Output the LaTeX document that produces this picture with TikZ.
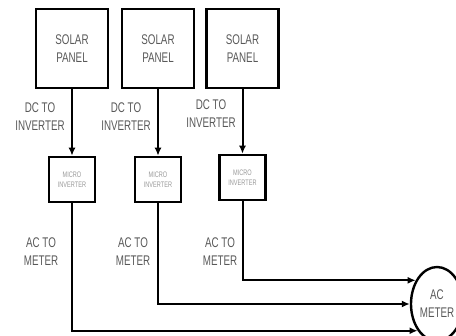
\documentclass[tikz,border=0pt]{standalone}
\usepackage{fontspec}
\setmainfont{Liberation Sans}[FakeStretch=0.7]
\usetikzlibrary{shapes.geometric, arrows.meta}

\begin{document}
\begin{tikzpicture}[x=0.5pt, y=-0.5pt,
    panelbox/.style={draw, line width=1.3pt, minimum width=36pt, minimum height=39.5pt,
        inner sep=0pt, align=center, text=black!65, font=\fontsize{7}{9}\selectfont},
    invbox/.style={draw, line width=1.3pt, minimum width=23pt, minimum height=22.5pt,
        inner sep=0pt, align=center, text=black!40, font=\fontsize{4}{5}\selectfont},
    wirelabel/.style={align=center, text=black!65, font=\fontsize{7}{9}\selectfont},
    flow/.style={line width=1pt, -{Latex[length=4pt, width=3.5pt]}}]
    \useasboundingbox (0,0) rectangle (456,336);

    % Panels, micro inverters and wire labels
    \foreach \i/\px/\iy/\dx/\dy/\ax in {1/72/179.5/40/117/41, 2/158/179.5/126/117/133, 3/242.5/177.5/211/114/220} {
        \node[panelbox] (panel\i) at (\px,48.5) {SOLAR\\PANEL};
        \node[invbox] (inv\i) at (\px,\iy) {MICRO\\INVERTER};
        \node[wirelabel] (dc\i) at (\dx,\dy) {DC TO\\INVERTER};
        \node[wirelabel] (ac\i) at (\ax,252) {AC TO\\METER};
        \draw[flow] (panel\i) -- (inv\i);
    }

    % AC meter
    \node[ellipse, draw, line width=1.2pt, minimum width=26pt, minimum height=37pt,
        inner sep=0pt, align=center, text=black!65, font=\fontsize{7}{9}\selectfont]
        (meter) at (437,304) {AC\\METER};

    % AC lines to meter
    \draw[flow] (inv3) |- (meter.132);
    \draw[flow] (inv2) |- (meter.west);
    \draw[flow] (inv1) |- (meter.234);
\end{tikzpicture}
\end{document}
